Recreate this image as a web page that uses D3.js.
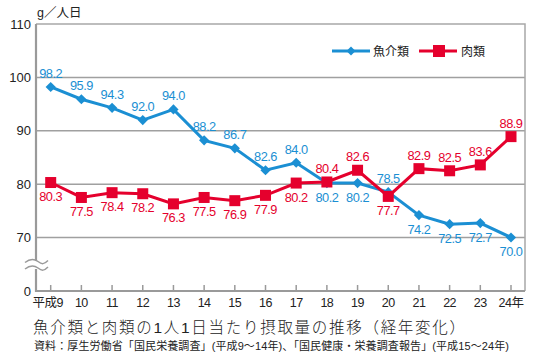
<!DOCTYPE html>
<html><head><meta charset="utf-8">
<script src="https://cdn.jsdelivr.net/npm/d3@7"></script>
<style>body{margin:0;background:#fff}svg{display:block}text{font-family:"Liberation Sans","Noto Sans CJK JP",sans-serif}</style>
</head><body>
<svg id="c" width="540" height="360"></svg>
<script>
const years = ["平成9","10","11","12","13","14","15","16","17","18","19","20","21","22","23","24年"];
const fish = [98.2,95.9,94.3,92.0,94.0,88.2,86.7,82.6,84.0,80.2,80.2,78.5,74.2,72.5,72.7,70.0];
const meat = [80.3,77.5,78.4,78.2,76.3,77.5,76.9,77.9,80.2,80.4,82.6,77.7,82.9,82.5,83.6,88.9];
const fishLabelPos = ["a","a","a","a","a","a","a","a","a","b","b","a","b","b","b","b"];
const meatLabelPos = ["b","b","b","b","b","b","b","b","b","a","a","b","a","a","a","a"];
const yTicks = [0,70,80,90,100,110];
const seriesNames = ["魚介類","肉類"];
const unit = "g／人日";
const title = "魚介類と肉類の1人1日当たり摂取量の推移（経年変化）";
const source = "資料：厚生労働省「国民栄養調査」(平成9～14年)、「国民健康・栄養調査報告」(平成15～24年)";

const BLUE = "#1b8fd3", RED = "#e5002d";
const svg = d3.select("#c");
const L = 36, R = 525, T = 24, B = 291;
const x = d3.scalePoint().domain(years).range([50.7, 511]);
const y = d3.scaleLinear().domain([0,70,110]).range([B, 237.5, T]);

// gridlines
svg.append("g").selectAll("line").data([70,80,90,100]).join("line")
  .attr("x1", L).attr("x2", R).attr("y1", d=>y(d)).attr("y2", d=>y(d))
  .attr("stroke", "#a0a0a0").attr("stroke-width", 1.5);
// frame top/right
svg.append("path").attr("d", `M${L},${T}H${R}V${B}`).attr("fill","none").attr("stroke","#a8a8a8").attr("stroke-width",1.5);
// axes
svg.append("path").attr("d", `M${L},${T}V${B}H${R}`).attr("fill","none").attr("stroke","#9a9a9a").attr("stroke-width",2.2);
// x ticks
svg.append("g").selectAll("line").data(years).join("line")
  .attr("x1", d=>x(d)).attr("x2", d=>x(d)).attr("y1", B-6).attr("y2", B)
  .attr("stroke", "#9a9a9a").attr("stroke-width", 1.5);
// break
svg.append("rect").attr("x", L-3).attr("y", 261).attr("width", 6).attr("height", 8).attr("fill", "#fff");
[261.5, 268].forEach(yy=>{
  svg.append("path").attr("d", `M25,${yy+1} C30,${yy-3} 34,${yy-3} 38,${yy} S44,${yy+3} 48,${yy-1}`)
    .attr("fill","none").attr("stroke","#9a9a9a").attr("stroke-width",1.5);
});
// y labels
svg.append("g").selectAll("text").data(yTicks).join("text")
  .attr("x", 31).attr("y", d=>y(d)).attr("dy","0.36em").attr("text-anchor","end")
  .attr("font-size", 13).attr("fill","#222").text(d=>d);
svg.append("text").attr("x", 37).attr("y", 17).attr("font-size", 12.5).attr("fill","#222").text(unit);
// x labels
svg.append("g").selectAll("text").data(years).join("text")
  .attr("x", (d,i)=> i===0 ? x(d)-3 : x(d)).attr("y", 307).attr("text-anchor","middle")
  .attr("font-size", 12.5).attr("fill","#222").attr("letter-spacing", -0.5).text(d=>d);

function series(vals, color, shape, pos) {
  const line = d3.line().x((d,i)=>x(years[i])).y(d=>y(d));
  svg.append("path").attr("d", line(vals)).attr("fill","none").attr("stroke",color).attr("stroke-width",3);
  const g = svg.append("g");
  if (shape === "diamond") {
    g.selectAll("path").data(vals).join("path")
      .attr("d", d3.symbol(d3.symbolSquare, 52)).attr("fill", color)
      .attr("transform", (d,i)=>`translate(${x(years[i])},${y(d)}) rotate(45)`);
  } else {
    g.selectAll("rect").data(vals).join("rect")
      .attr("x",(d,i)=>x(years[i])-5.5).attr("y",d=>y(d)-5.5).attr("width",11).attr("height",11).attr("fill",color);
  }
  svg.append("g").selectAll("text").data(vals).join("text")
    .attr("x",(d,i)=>x(years[i])).attr("y",(d,i)=> pos[i]==="a" ? y(d)-9 : y(d)+18.5)
    .attr("text-anchor","middle").attr("font-size",12.8).attr("fill",color).attr("letter-spacing",-0.5)
    .text(d=>d.toFixed(1));
}
series(fish, BLUE, "diamond", fishLabelPos);
series(meat, RED, "square", meatLabelPos);

// legend
const lg = svg.append("g");
lg.append("line").attr("x1",332).attr("x2",370).attr("y1",51).attr("y2",51).attr("stroke",BLUE).attr("stroke-width",3);
lg.append("path").attr("d", d3.symbol(d3.symbolSquare, 40)).attr("fill",BLUE).attr("transform","translate(351,51) rotate(45)");
lg.append("text").attr("x",373).attr("y",55.5).attr("font-size",12).attr("fill","#222").text(seriesNames[0]);
lg.append("line").attr("x1",419).attr("x2",457).attr("y1",51).attr("y2",51).attr("stroke",RED).attr("stroke-width",3);
lg.append("rect").attr("x",433).attr("y",45).attr("width",12).attr("height",12).attr("fill",RED);
lg.append("text").attr("x",461).attr("y",55.5).attr("font-size",12).attr("fill","#222").text(seriesNames[1]);

// title & source
svg.append("text").attr("x",33).attr("y",333).attr("font-size",15.5).attr("fill","#222")
  .attr("font-family","Noto Sans CJK JP").attr("font-weight",300).attr("textLength",432).text(title);
svg.append("text").attr("x",34).attr("y",350).attr("font-size",11).attr("fill","#222")
  .attr("font-family","Noto Sans CJK JP").attr("textLength",475).text(source);
</script>
</body></html>
